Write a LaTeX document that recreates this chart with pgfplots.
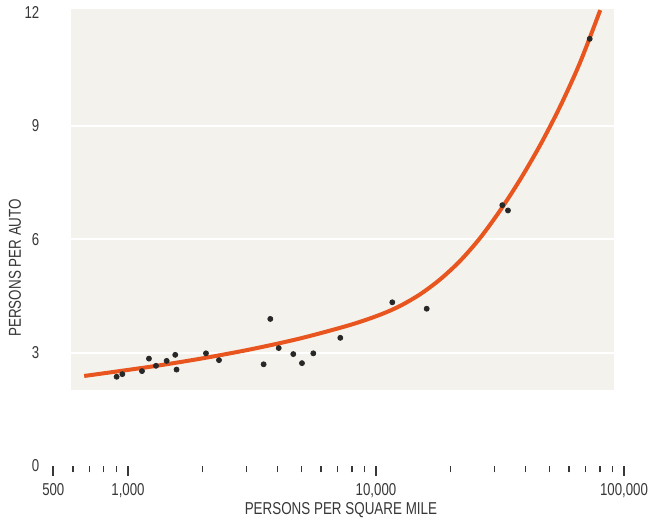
\documentclass[border=0pt]{standalone}
\usepackage{fontspec}
\setmainfont{Liberation Sans}[FakeStretch=0.77]
\newfontfamily\labelfont{Liberation Sans}[FakeStretch=0.78]
\usepackage{pgfplots}
\pgfplotsset{compat=1.18}
\definecolor{bgc}{RGB}{244,242,236}
\definecolor{curvec}{RGB}{232,85,30}
\definecolor{dotc}{RGB}{40,40,40}
\definecolor{txtc}{RGB}{55,55,55}
\begin{document}
\begin{tikzpicture}
\begin{axis}[
  scale only axis, width=285.35pt, height=226.8pt,
  xmode=log, xmin=500, xmax=100000, ymin=0, ymax=12,
  clip=false,
  axis x line*=bottom, axis y line*=left,
  axis line style={draw=none},
  xtick={500,1000,10000,100000},
  xticklabels={500,{1,000},{10,000},{100,000}},
  minor xtick={600,700,800,900,2000,3000,4000,5000,6000,7000,8000,9000,20000,30000,40000,50000,60000,70000,80000,90000},
  ytick={0,3,6,9,12},
  ytick style={draw=none},
  tick align=outside,
  major tick length=5pt, minor tick length=3.2pt,
  xtick style={txtc},
  major tick style={line width=0.9pt},
  minor tick style={line width=0.55pt},
  /pgf/number format/assume math mode=true,
  tick label style={font=\fontsize{8.6}{10}\selectfont, text=txtc},
  yticklabel style={anchor=east, xshift=1.5pt},
  xlabel={PERSONS PER SQUARE MILE},
  ylabel={PERSONS PER AUTO},
  every axis x label/.style={at={(axis description cs:0.504,-0.097)}, anchor=center, font=\labelfont\fontsize{8.6}{10}\selectfont, text=txtc},
  every axis y label/.style={at={(axis description cs:-0.067,0.437)}, rotate=90, anchor=center, font=\labelfont\fontsize{8.6}{10}\selectfont, text=txtc},
]
\addplot[fill=bgc, draw=none] coordinates {(588,2) (90800,2) (90800,12.08) (588,12.08)} -- cycle;
\addplot[white, line width=1pt] coordinates {(588,3) (90800,3)};
\addplot[white, line width=1pt] coordinates {(588,6) (90800,6)};
\addplot[white, line width=1pt] coordinates {(588,9) (90800,9)};
\addplot[curvec, line width=2pt, smooth] coordinates {
 (666,2.381) (1227,2.624) (1951,2.836) (3104,3.082) (4938,3.373) (7858,3.730)
 (10378,4.000) (12496,4.233) (15045,4.540) (18117,4.934) (21813,5.423) (26265,6.029)
 (31623,6.754) (38075,7.571) (45843,8.481) (55198,9.505) (66454,10.669) (80200,12.06)};
\addplot[only marks, mark=*, mark size=1.25pt, draw=dotc, fill=dotc] coordinates {
 (900,2.36) (949,2.43) (1139,2.51) (1215,2.84) (1297,2.65) (1432,2.78) (1551,2.94)
 (1570,2.55) (2063,2.98) (2328,2.80) (3524,2.69) (3749,3.89) (4053,3.12) (4640,2.96)
 (5030,2.72) (5588,2.98) (7180,3.39) (11635,4.33) (16010,4.16) (32310,6.90)
 (34050,6.76) (72720,11.30)};
\coordinate (bbl) at (rel axis cs:-0.0934,-0.1345);
\coordinate (btr) at (rel axis cs:1.0508,1.0273);
\end{axis}
\pgfresetboundingbox
\path (bbl) rectangle (btr);
\end{tikzpicture}
\end{document}
